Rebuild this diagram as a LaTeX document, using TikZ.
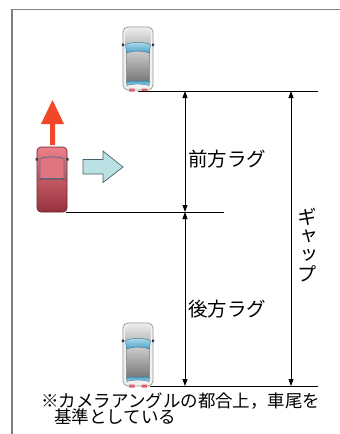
\documentclass[tikz,border=0pt]{standalone}
\usepackage{fontspec}
\newfontfamily\jp{Noto Sans CJK JP}
\newfontfamily\jpv[RawFeature=+vert]{Noto Sans CJK JP}
\usetikzlibrary{arrows.meta}
\definecolor{framegray}{RGB}{128,128,128}
\definecolor{glassA}{RGB}{175,222,236}
\definecolor{glassB}{RGB}{75,160,195}
\definecolor{glassEdge}{RGB}{60,110,135}
\definecolor{shell}{RGB}{240,240,240}
\definecolor{shellEdge}{RGB}{150,150,150}
\definecolor{hoodA}{RGB}{232,232,232}
\definecolor{hoodB}{RGB}{180,180,180}
\definecolor{roofA}{RGB}{205,205,205}
\definecolor{roofB}{RGB}{120,120,120}
\definecolor{tail}{RGB}{225,95,105}
\definecolor{redA}{RGB}{236,128,138}
\definecolor{redB}{RGB}{150,50,62}
\definecolor{redEdge}{RGB}{110,35,45}
\definecolor{cabEdge}{RGB}{80,110,140}
\definecolor{goRed}{RGB}{240,72,40}
\definecolor{turnFill}{RGB}{186,226,228}
\definecolor{turnEdge}{RGB}{70,95,105}
\tikzset{
  framestyle/.style={draw=framegray, line width=1.3pt},
  refline/.style={draw=black, line width=0.8pt},
  dim/.style={draw=black, line width=0.8pt,
    {Triangle[length=7pt,width=5pt]}-{Triangle[length=7pt,width=5pt]}},
  lab/.style={font=\jp\fontsize{19.5}{20}\selectfont, inner sep=0pt},
  notestyle/.style={font=\jp\fontsize{17.5}{16}\selectfont, inner sep=0pt, anchor=base west},
  % grey saloon seen from above, front facing up
  graycar/.pic={
    \draw[draw=shellEdge, fill=shell, line width=0.7pt, rounded corners=5pt] (0,0) rectangle (30,63);
    \path[top color=hoodA, bottom color=hoodB, rounded corners=4pt] (2.5,2) rectangle (27.5,21);
    \path[top color=roofA, bottom color=roofB]
      (3.5,26) .. controls (10,23.5) and (20,23.5) .. (26.5,26) -- (26.5,54) -- (3.5,54) -- cycle;
    \path[draw=glassEdge, line width=0.4pt, top color=glassA, bottom color=glassB]
      (2.5,17.5) .. controls (10,14.5) and (20,14.5) .. (27.5,17.5) -- (26.5,26)
      .. controls (20,23.5) and (10,23.5) .. (3.5,26) -- cycle;
    \path[draw=glassEdge, line width=0.4pt, top color=glassB, bottom color=glassA]
      (3.5,54) -- (26.5,54) -- (26,58.5) .. controls (20,56.5) and (10,56.5) .. (4,58.5) -- cycle;
    \draw[shellEdge, line width=0.4pt] (3.5,26) -- (3.5,54) (26.5,26) -- (26.5,54);
    \fill[black!80] (-1.2,16.5) rectangle (1,19) (29,16.5) rectangle (31.2,19);
    \fill[tail] (6,61.5) rectangle (11.5,64.5) (18.5,61.5) rectangle (24,64.5);
  },
  % red pickup seen from above, front facing up
  redcar/.pic={
    \draw[draw=redEdge, top color=redA, bottom color=redB, line width=0.7pt, rounded corners=4pt]
      (0,0) rectangle (30,65);
    \draw[draw=cabEdge, line width=0.8pt, fill=redA!85!redB]
      (3,11.5) .. controls (10,9.5) and (20,9.5) .. (27,11.5) -- (27,31.5) -- (3,31.5) -- cycle;
    \draw[draw=redEdge!80, line width=0.6pt] (1,32.5) -- (29,32.5);
    \fill[black!75] (-1.5,11) rectangle (1,13.5) (29,11) rectangle (31.5,13.5);
  }
}
\begin{document}
\begin{tikzpicture}[x=1pt, y=-1pt]
\useasboundingbox (0,0) rectangle (340,434);
\fill[white] (0,0) rectangle (340,434);

% open frame
\draw[framestyle] (340,9.5) -- (12,9.5) -- (12,434);

% vehicles
\pic at (123,27) {graycar};
\pic at (123,323) {graycar};
\pic at (37,147) {redcar};

% heading arrow and turning arrow
\fill[goRed] (50,145) -- (50,124) -- (41,124) -- (52.5,100) -- (64,124) -- (55,124) -- (55,145) -- cycle;
\draw[draw=turnEdge, fill=turnFill, line width=0.7pt, line join=miter]
  (83,159.5) -- (103,159.5) -- (103,151) -- (123,167) -- (103,182.5) -- (103,174) -- (83,174) -- cycle;

% reference lines
\coordinate (frontL) at (138,91);   \coordinate (frontR) at (318,91);
\coordinate (midL)   at (66,212);   \coordinate (midR)   at (224,212);
\coordinate (rearL)  at (150,386);  \coordinate (rearR)  at (318,386);
\draw[refline] (frontL) -- (frontR);
\draw[refline] (midL) -- (midR);
\draw[refline] (rearL) -- (rearR);

% dimension arrows
\coordinate (lagTop) at (185,91);
\coordinate (lagMid) at (185,212);
\coordinate (lagBot) at (185,386);
\coordinate (gapTop) at (291,91);
\coordinate (gapBot) at (291,386);
\draw[dim] (lagTop) -- (lagMid);
\draw[dim] (lagMid) -- (lagBot);
\draw[dim] (gapTop) -- (gapBot);

% labels
\node[lab, anchor=west] (front) at (188,159) {前方ラグ};
\node[lab, anchor=west] (rear)  at (188,309) {後方ラグ};
\node[font=\jpv\fontsize{19.5}{19}\selectfont, inner sep=0pt, align=center] (gap) at (307,245)
  {ギ\\ャ\\ッ\\プ};

% footnote
\node[notestyle] (note1) at (41,407) {※カメラアングルの都合上，車尾を};
\node[notestyle] (note2) at (54,423) {基準としている};
\end{tikzpicture}
\end{document}
